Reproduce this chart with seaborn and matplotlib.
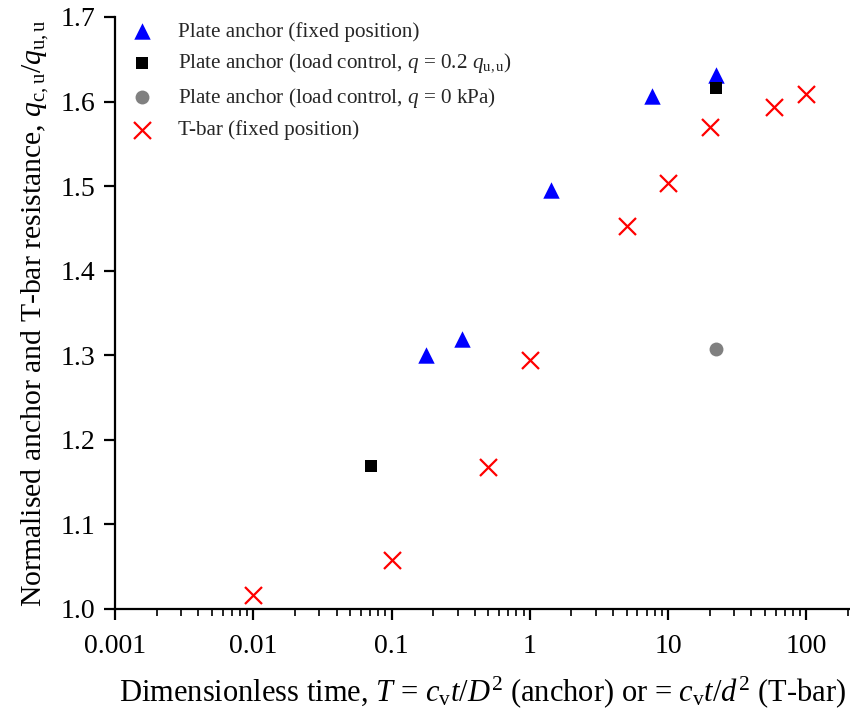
import numpy as np
import pandas as pd
import matplotlib
matplotlib.use("Agg")
import matplotlib.pyplot as plt
import seaborn as sns

# ---- data ----
anchor_fixed_T = [0.177, 0.324, 1.42, 7.7, 22.0]
anchor_fixed_q = [1.300, 1.319, 1.495, 1.607, 1.631]

anchor_lc02_T = [0.0707, 22.0]
anchor_lc02_q = [1.169, 1.616]

anchor_lc0_T = [22.0]
anchor_lc0_q = [1.308]

tbar_T = [0.01, 0.1, 0.5, 1.0, 5.0, 10.0, 20.0, 58.0, 100.0]
tbar_q = [1.017, 1.058, 1.168, 1.295, 1.453, 1.504, 1.570, 1.594, 1.609]

x_ticks = [0.001, 0.01, 0.1, 1, 10, 100]
x_ticklabels = ["0.001", "0.01", "0.1", "1", "10", "100"]
y_ticks = [1.0, 1.1, 1.2, 1.3, 1.4, 1.5, 1.6, 1.7]

labels = [
    "Plate anchor (fixed position)",
    r"Plate anchor (load control, $q$ = 0.2 $q_\mathrm{u,u}$)",
    r"Plate anchor (load control, $q$ = 0 kPa)",
    "T-bar (fixed position)",
]

sns.set_style("ticks")
plt.rcParams["font.family"] = ["Liberation Serif", "DejaVu Serif"]
plt.rcParams["mathtext.fontset"] = "custom"
plt.rcParams["mathtext.rm"] = "Liberation Serif"
plt.rcParams["mathtext.it"] = "Liberation Serif:italic"
plt.rcParams["mathtext.bf"] = "Liberation Serif:bold"

fig = plt.figure(figsize=(8.5, 7.13), dpi=100)
ax = fig.add_axes([115 / 850, 1 - 609 / 713, 1 - 115 / 850, (609 - 17) / 713])

df_af = pd.DataFrame({"T": anchor_fixed_T, "q": anchor_fixed_q})
df_l2 = pd.DataFrame({"T": anchor_lc02_T, "q": anchor_lc02_q})
df_l0 = pd.DataFrame({"T": anchor_lc0_T, "q": anchor_lc0_q})
df_tb = pd.DataFrame({"T": tbar_T, "q": tbar_q})

sns.scatterplot(data=df_af, x="T", y="q", marker="^", s=140, color="#0000ff",
                linewidth=0, ax=ax, zorder=3)
sns.scatterplot(data=df_l2, x="T", y="q", marker="s", s=85, color="#000000",
                linewidth=0, ax=ax, zorder=3)
sns.scatterplot(data=df_l0, x="T", y="q", marker="o", s=100, color="#808080",
                linewidth=0, ax=ax, zorder=3)
sns.scatterplot(data=df_tb, x="T", y="q", marker="x", s=150, color="#ff0000",
                linewidth=1.6, ax=ax, zorder=3)

ax.set_xscale("log")
ax.set_xlim(0.001, 10 ** 2.315)
ax.set_ylim(1.0, 1.7)
ax.set_xticks(x_ticks)
ax.set_xticklabels(x_ticklabels)
ax.xaxis.set_minor_locator(matplotlib.ticker.LogLocator(base=10, subs=np.arange(2, 10)))
ax.xaxis.set_minor_formatter(matplotlib.ticker.NullFormatter())
ax.set_yticks(y_ticks)
ax.set_yticklabels([f"{v:.1f}" for v in y_ticks])

sns.despine(ax=ax)
for sp in ["left", "bottom"]:
    ax.spines[sp].set_linewidth(1.6)
    ax.spines[sp].set_color("black")
ax.tick_params(axis="both", which="major", direction="out", length=8, width=1.6,
               labelsize=20, color="black", labelcolor="black", pad=6)
ax.tick_params(axis="x", which="minor", direction="out", length=5, width=1.2, color="black")
ax.tick_params(axis="x", which="major", pad=10)

ax.set_xlabel(r"Dimensionless time, $T$ = $c_\mathrm{v}t/D^2$ (anchor) or = $c_\mathrm{v}t/d^2$ (T-bar)",
              fontsize=22, labelpad=11, color="black")
ax.set_ylabel(r"Normalised anchor and T-bar resistance, $q_\mathrm{c,u}/q_\mathrm{u,u}$",
              fontsize=21.4, labelpad=7, color="black")

handles = ax.collections[:4]
ax.legend(handles, labels, loc="upper left", frameon=False, fontsize=15.2,
          bbox_to_anchor=(-0.005, 1.017), handletextpad=0.94, labelspacing=0.5,
          borderaxespad=0.3, handlelength=1.5)

fig.savefig("out.png", dpi=100)
